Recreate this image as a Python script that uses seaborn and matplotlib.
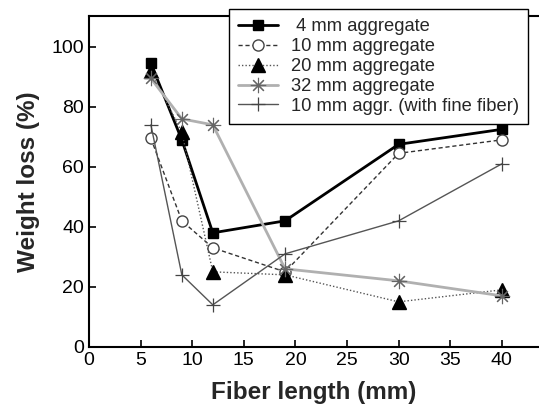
import numpy as np
import pandas as pd
import seaborn as sns
import matplotlib.pyplot as plt

# ── Data ──────────────────────────────────────────────────────────────────────
fiber_len = [6, 9, 12, 19, 30, 40]
agg_4mm   = [94.5, 69, 38, 42, 67.5, 72.5]
agg_10mm  = [69.5, 42, 33, 25, 64.5, 69]
agg_20mm  = [92, 71.5, 25, 24, 15, 19]
agg_32mm  = [89.5, 76, 74, 26, 22, 17]
agg_10mm_fine = [74, 24, 14, 31, 42, 61]

labels = [" 4 mm aggregate", "10 mm aggregate", "20 mm aggregate",
          "32 mm aggregate", "10 mm aggr. (with fine fiber)"]
values = [agg_4mm, agg_10mm, agg_20mm, agg_32mm, agg_10mm_fine]

styles = [
    dict(color="black", lw=2.0, ls="-", marker="s", ms=7.5, mfc="black", mec="black"),
    dict(color="#333333", lw=1.0, ls=(0, (3, 2)), marker="o", ms=8, mfc="white", mec="#444444"),
    dict(color="#555555", lw=1.0, ls=(0, (1, 1.5)), marker="^", ms=10, mfc="black", mec="black"),
    dict(color="#b0b0b0", lw=2.0, ls="-", marker=(8, 2, 0), ms=11, mfc="#666666", mec="#666666", mew=0.8),
    dict(color="#555555", lw=1.0, ls="-", marker="+", ms=10, mfc="#444444", mec="#444444", mew=0.9),
]

sns.set_style("ticks")
plt.rcParams["font.family"] = ["Liberation Sans", "DejaVu Sans"]

fig = plt.figure(figsize=(5.39, 4.09), dpi=100)
ax = fig.add_axes([0.165, 0.152, 0.835, 0.809])

for lab, vals, st in zip(labels, values, styles):
    df = pd.DataFrame({"x": fiber_len, "y": vals})
    sns.lineplot(data=df, x="x", y="y", ax=ax, label=lab,
                 color=st["color"], linewidth=st["lw"], linestyle=st["ls"],
                 marker=st["marker"], markersize=st["ms"],
                 markerfacecolor=st["mfc"], markeredgecolor=st["mec"],
                 markeredgewidth=st.get("mew", 1.0))

ax.set_xlim(0, 43.6)
ax.set_ylim(0, 110.3)
ax.set_xticks(range(0, 45, 5))
ax.set_yticks(range(0, 101, 20))
ax.tick_params(direction="in", length=5, width=1.2, labelsize=14, colors="black")
for side in ["left", "bottom", "top"]:
    ax.spines[side].set_linewidth(1.5)
    ax.spines[side].set_color("black")
ax.spines["right"].set_visible(False)

ax.set_xlabel("Fiber length (mm)", fontsize=17.5, fontweight="bold", labelpad=9)
ax.set_ylabel("Weight loss (%)", fontsize=17.5, fontweight="bold", labelpad=8)

leg = ax.legend(loc="upper right", bbox_to_anchor=(0.976, 1.021), borderaxespad=0,
                fontsize=13.2, frameon=True, fancybox=False, framealpha=1,
                edgecolor="black", borderpad=0.5, labelspacing=0.16,
                handlelength=2.2, handletextpad=0.7)
leg.get_frame().set_linewidth(1.0)
leg.set_zorder(5)

fig.savefig("out.png", dpi=100)
